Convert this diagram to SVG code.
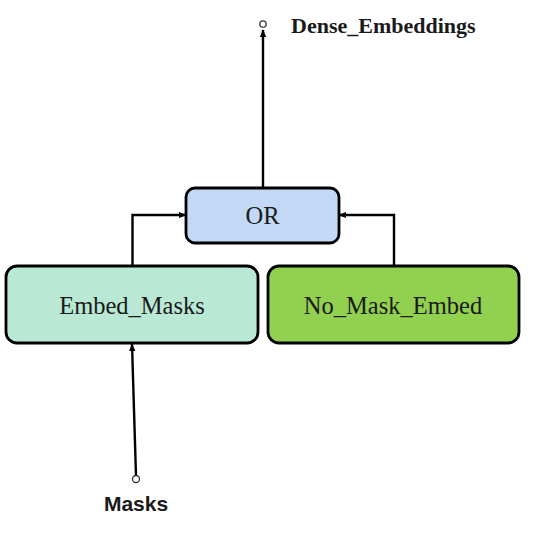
<svg xmlns="http://www.w3.org/2000/svg" width="534" height="554" viewBox="0 0 534 554">
<style>
.box{stroke:#000;stroke-width:2.8}
.lbl{font-family:"Liberation Serif","Times New Roman",serif;font-size:24.5px;fill:#1a1a1a;text-anchor:middle}
.conn{fill:none;stroke:#000;stroke-width:2.4}
.port{fill:#fff;stroke:#333;stroke-width:1.3}
</style>
<defs>
<marker id="ah" viewBox="0 0 10 10" refX="9" refY="5" markerWidth="8" markerHeight="8" markerUnits="userSpaceOnUse" orient="auto">
<path d="M0,1 L10,5 L0,9 z" fill="#000"/>
</marker>
</defs>
<rect width="534" height="554" fill="#fff"/>
<g id="connectors">
<path class="conn" d="M263,187 L263,30" marker-end="url(#ah)"/>
<path class="conn" d="M132.5,266 L132.5,215 L186,215" marker-end="url(#ah)"/>
<path class="conn" d="M394,266 L394,215 L339,215" marker-end="url(#ah)"/>
<path class="conn" d="M136,476 L132,344" marker-end="url(#ah)"/>
<circle class="port" cx="263" cy="24" r="3.2"/>
<circle class="port" cx="136" cy="479" r="3.5"/>
</g>
<g id="or">
<rect class="box" x="186" y="188" width="153" height="55" rx="9" fill="#c2d8f4"/>
<text class="lbl" x="262.5" y="224">OR</text>
</g>
<g id="embed_masks">
<rect class="box" x="6" y="266" width="252" height="77" rx="11" fill="#b9e9d5"/>
<text class="lbl" x="132" y="314">Embed_Masks</text>
</g>
<g id="no_mask_embed">
<rect class="box" x="268" y="266" width="251" height="77" rx="11" fill="#92d050"/>
<text class="lbl" x="393" y="314">No_Mask_Embed</text>
</g>
<g id="dense_embeddings">
<text x="291" y="33" font-family="'Liberation Serif','Times New Roman',serif" font-weight="bold" font-size="22" fill="#1a1a1a">Dense_Embeddings</text>
</g>
<g id="masks">
<text x="136" y="511" font-family="'Liberation Sans',Arial,sans-serif" font-weight="bold" font-size="21" fill="#1a1a1a" text-anchor="middle">Masks</text>
</g>
</svg>
